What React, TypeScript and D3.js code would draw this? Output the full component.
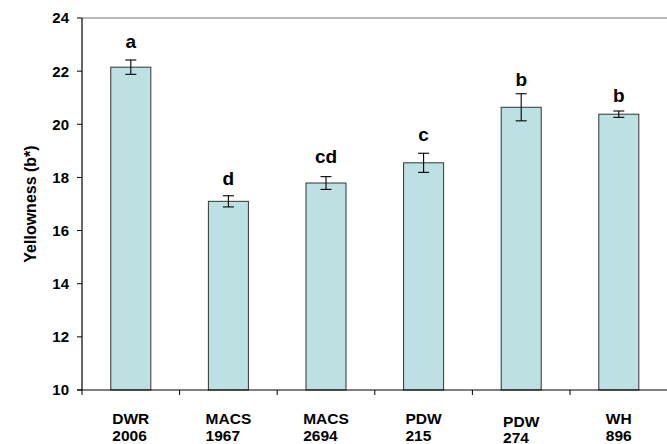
import React, { useEffect, useRef } from "react";
import * as d3 from "d3";

const categories: string[][] = [
  ["DWR", "2006"],
  ["MACS", "1967"],
  ["MACS", "2694"],
  ["PDW", "215"],
  ["PDW", "274"],
  ["WH", "896"],
];
const values: number[] = [22.15, 17.1, 17.79, 18.55, 20.64, 20.38];
const errors: number[] = [0.27, 0.21, 0.24, 0.36, 0.51, 0.12];
const letters: string[] = ["a", "d", "cd", "c", "b", "b"];
const letterLevels: number[] = [22.86, 17.72, 18.53, 19.38, 21.45, 20.85];
const yTicks: number[] = [10, 12, 14, 16, 18, 20, 22, 24];
const yTitle = "Yellowness (b*)";

const W = 667;
const H = 444;
const FONT = "'Liberation Sans', Arial, Helvetica, sans-serif";

export default function App() {
  const ref = useRef<SVGSVGElement | null>(null);

  useEffect(() => {
    const svg = d3.select(ref.current);
    svg.selectAll("*").remove();

    const left = 82;
    const right = 667.6;
    const top = 18;
    const bottom = 390;

    const idx = categories.map((_, i) => String(i));
    const x = d3
      .scaleBand<string>()
      .domain(idx)
      .range([left, right])
      .paddingInner(0.59)
      .paddingOuter(0.295);
    const step = x.step();
    const y = d3.scaleLinear().domain([10, 24]).range([bottom, top]);

    const g = svg.append("g");

    // top frame line (gray)
    g.append("line")
      .attr("x1", left)
      .attr("x2", W)
      .attr("y1", y(24))
      .attr("y2", y(24))
      .attr("stroke", "#777")
      .attr("stroke-width", 1.2);

    // bars
    g.selectAll("rect.bar")
      .data(values)
      .enter()
      .append("rect")
      .attr("class", "bar")
      .attr("x", (_, i) => x(String(i))!)
      .attr("width", x.bandwidth())
      .attr("y", (d) => y(d))
      .attr("height", (d) => y(10) - y(d))
      .attr("fill", "#BDE0E3")
      .attr("stroke", "#333")
      .attr("stroke-width", 1);

    // error bars
    const cap = 5.5;
    values.forEach((v, i) => {
      const cx = x(String(i))! + x.bandwidth() / 2;
      const e = errors[i];
      const eg = g.append("g").attr("stroke", "#000").attr("stroke-width", 1.1);
      eg.append("line").attr("x1", cx).attr("x2", cx).attr("y1", y(v + e)).attr("y2", y(v - e));
      eg.append("line").attr("x1", cx - cap).attr("x2", cx + cap).attr("y1", y(v + e)).attr("y2", y(v + e));
      eg.append("line").attr("x1", cx - cap).attr("x2", cx + cap).attr("y1", y(v - e)).attr("y2", y(v - e));

      g.append("text")
        .attr("x", cx)
        .attr("y", y(letterLevels[i]))
        .attr("text-anchor", "middle")
        .attr("font-family", FONT)
        .attr("font-weight", "bold")
        .attr("font-size", 19)
        .attr("fill", "#000")
        .text(letters[i]);
    });

    // y axis
    g.append("line")
      .attr("x1", left)
      .attr("x2", left)
      .attr("y1", y(24))
      .attr("y2", y(10))
      .attr("stroke", "#000")
      .attr("stroke-width", 1.2);
    yTicks.forEach((t) => {
      g.append("line")
        .attr("x1", left - 5)
        .attr("x2", left)
        .attr("y1", y(t))
        .attr("y2", y(t))
        .attr("stroke", "#000")
        .attr("stroke-width", 1);
      g.append("text")
        .attr("x", 69)
        .attr("y", y(t))
        .attr("dy", "0.36em")
        .attr("text-anchor", "end")
        .attr("font-family", FONT)
        .attr("font-weight", "bold")
        .attr("font-size", 15)
        .attr("fill", "#000")
        .text(String(t));
    });

    // x axis
    g.append("line")
      .attr("x1", left - 5)
      .attr("x2", W)
      .attr("y1", y(10))
      .attr("y2", y(10))
      .attr("stroke", "#000")
      .attr("stroke-width", 1.2);
    for (let i = 0; i <= categories.length; i++) {
      const tx = left + i * step;
      g.append("line")
        .attr("x1", tx)
        .attr("x2", tx)
        .attr("y1", y(10))
        .attr("y2", y(10) + 5)
        .attr("stroke", "#000")
        .attr("stroke-width", 1);
    }

    // x labels (left-aligned block centred on band)
    categories.forEach((lines, i) => {
      const cx = x(String(i))! + x.bandwidth() / 2;
      const shift = i === 4 ? 1.5 : 0;
      const t = g
        .append("text")
        .attr("font-family", FONT)
        .attr("font-weight", "bold")
        .attr("font-size", 15.5)
        .attr("fill", "#000");
      const t1 = t.append("tspan").attr("y", 424 + shift * 2).text(lines[0]);
      const t2 = t.append("tspan").attr("y", 441 + shift).text(lines[1]);
      const w = Math.max(
        (t1.node() as SVGTSpanElement).getComputedTextLength(),
        (t2.node() as SVGTSpanElement).getComputedTextLength()
      );
      t1.attr("x", cx - w / 2);
      t2.attr("x", cx - w / 2);
    });

    // y title
    g.append("text")
      .attr("transform", `translate(36,${(y(10) + y(24)) / 2}) rotate(-90)`)
      .attr("text-anchor", "middle")
      .attr("font-family", FONT)
      .attr("font-weight", "bold")
      .attr("font-size", 16)
      .attr("fill", "#000")
      .text(yTitle);
  }, []);

  return (
    <svg
      ref={ref}
      width={W}
      height={H}
      style={{ position: "absolute", left: 0, top: 0, background: "#fff" }}
    />
  );
}
